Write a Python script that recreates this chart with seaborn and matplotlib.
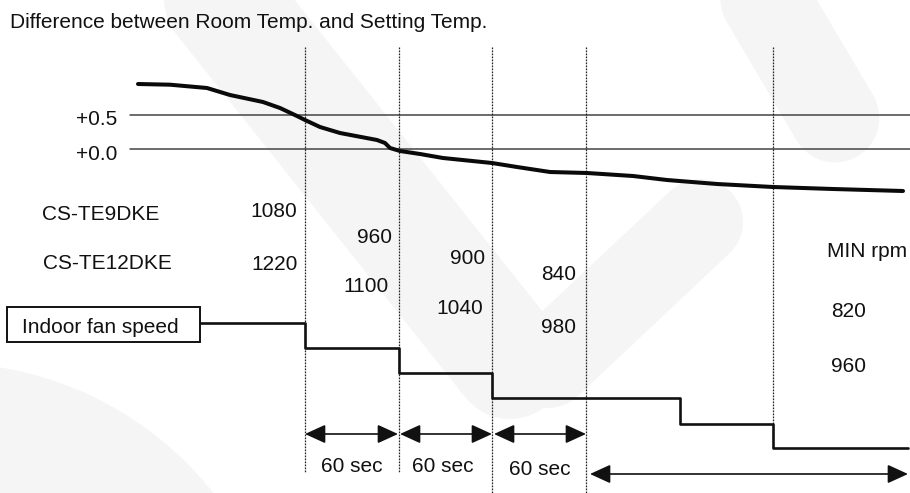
import matplotlib
matplotlib.use("Agg")
import matplotlib.pyplot as plt
import seaborn as sns
import pandas as pd
from matplotlib.patches import Rectangle, Circle

sns.set_theme(style="white")
plt.rcParams['font.family'] = ['Liberation Sans', 'DejaVu Sans']

# ---------------- data (diagram units) ----------------
title = "Difference between Room Temp. and Setting Temp."
ref_labels = ["+0.5", "+0.0"]
ref_levels = [115, 149]

curve_x = [138, 170, 207, 230, 263, 280, 297, 305, 320, 340, 377, 385, 390, 400,
           420, 443, 492, 517, 550, 587, 633, 667, 717, 773, 833, 903]
curve_y = [84, 84.7, 88, 95, 102, 108, 116, 120, 127, 133, 140, 143, 148, 151,
           154, 158, 163, 167, 172, 173, 176, 180, 184, 187, 189, 191]

boundaries = [305, 399, 492, 586, 773]
boundary_ends = [472, 472, 493, 493, 424]

fan_x = [200, 305, 399, 492, 680, 773, 908]
fan_levels = [323, 348, 373, 398, 424, 448]

models = ["CS-TE9DKE", "CS-TE12DKE"]
te9_speeds = ["1080", "960", "900", "840", "820"]
te12_speeds = ["1220", "1100", "1040", "980", "960"]
interval_labels = ["60 sec", "60 sec", "60 sec"]
min_label = "MIN rpm"
box_label = "Indoor fan speed"

# ---------------- figure ----------------
fig = plt.figure(figsize=(9.10, 4.93), dpi=100)
ax = fig.add_axes([0, 0, 1, 1])
ax.set_xlim(0, 910)
ax.set_ylim(493, 0)
ax.axis("off")

# faint watermark
wm = "#f5f5f5"
ax.plot([190, 510], [-40, 362], color=wm, lw=82, solid_capstyle="round", zorder=0)
ax.plot([700, 548], [222, 365], color=wm, lw=62, solid_capstyle="round", zorder=0)
ax.plot([730, 835], [-60, 118], color=wm, lw=64, solid_capstyle="round", zorder=0)
ax.add_patch(Circle((-55, 705), 342, color=wm, zorder=0, lw=0))

fs = 15
ink = "#111111"

ax.text(10, 28, title, fontsize=fs, color=ink, ha="left", va="baseline")

# reference lines
for lab, lev, base in zip(ref_labels, ref_levels, [125, 160]):
    ax.axhline(lev, xmin=130 / 910, xmax=1, color="#444444", lw=1.1, zorder=1)
    ax.text(117, base, lab, fontsize=fs, color=ink, ha="right", va="baseline")

# dotted boundaries
for bx, be in zip(boundaries, boundary_ends):
    ax.plot([bx, bx], [47, be], color="#222222", lw=0.9,
            linestyle=(0, (1.4, 1.0)), zorder=1)

# temperature curve
df_curve = pd.DataFrame({"x": curve_x, "y": curve_y})
sns.lineplot(data=df_curve, x="x", y="y", sort=False, estimator=None,
             color="#0a0a0a", lw=2.9, ax=ax, zorder=3)

# fan speed steps
sx, sy = [fan_x[0]], [fan_levels[0]]
for i, lev in enumerate(fan_levels):
    if i > 0:
        sx.append(fan_x[i]); sy.append(lev)
    sx.append(fan_x[i + 1]); sy.append(lev)
df_step = pd.DataFrame({"x": sx, "y": sy})
sns.lineplot(data=df_step, x="x", y="y", sort=False, estimator=None,
             color="#111111", lw=1.9, ax=ax, zorder=3)

# box
ax.add_patch(Rectangle((7, 307), 193, 35, fill=False, edgecolor=ink, lw=1.4, zorder=3))
ax.text(22, 333, box_label, fontsize=fs, color=ink, ha="left", va="baseline")

# model labels
ax.text(42, 220, models[0], fontsize=fs, color=ink, ha="left", va="baseline")
ax.text(43, 269, models[1], fontsize=fs, color=ink, ha="left", va="baseline")

# speeds
te9_pos = [(297, 217, "right"), (392, 243, "right"), (485, 264, "right"),
           (576, 280, "right"), (831, 317, "left")]
te12_pos = [(298, 270, "right"), (389, 292, "right"), (483, 314, "right"),
            (576, 333, "right"), (831, 372, "left")]
for lab, (x, y, ha) in zip(te9_speeds, te9_pos):
    ax.text(x, y, lab, fontsize=fs, color=ink, ha=ha, va="baseline")
for lab, (x, y, ha) in zip(te12_speeds, te12_pos):
    ax.text(x, y, lab, fontsize=fs, color=ink, ha=ha, va="baseline")
ax.text(827, 257, min_label, fontsize=fs, color=ink, ha="left", va="baseline")

# interval arrows
arrow_style = dict(arrowstyle="<|-|>,head_length=1.05,head_width=0.48",
                   mutation_scale=12, lw=1.2, color="#111111",
                   shrinkA=0, shrinkB=0)
spans = [(305, 398), (400, 492), (494, 586)]
for (a, b) in spans:
    ax.annotate("", xy=(b, 434), xytext=(a, 434), arrowprops=arrow_style)
for lab, cx, by in zip(interval_labels, [352, 443, 540], [472, 472, 475]):
    ax.text(cx, by, lab, fontsize=fs, color=ink, ha="center", va="baseline")
ax.annotate("", xy=(908, 474), xytext=(590, 474), arrowprops=arrow_style)

fig.savefig("out.png", dpi=100)
